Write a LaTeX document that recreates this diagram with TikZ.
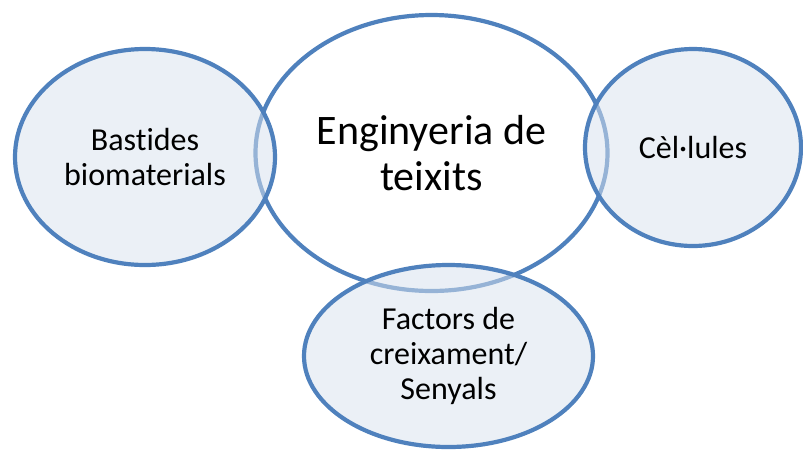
\documentclass[tikz,border=0pt]{standalone}
\usepackage{fontspec}
\setmainfont{Carlito}[Ligatures=NoCommon,RawFeature=-liga]
\usetikzlibrary{shapes.geometric}
\definecolor{olblue}{RGB}{79,129,189}
\definecolor{olfill}{RGB}{216,226,238}
\begin{document}
\begin{tikzpicture}[x=1pt,y=-1pt,
  bubble/.style={ellipse, draw=olblue, line width=4.2pt, inner sep=0pt, align=center},
  side/.style={bubble, fill=olfill, fill opacity=0.52, text opacity=1},
  smalltxt/.style={font=\fontsize{32}{35}\selectfont},
  bigtxt/.style={font=\fontsize{42}{46}\selectfont}]
\useasboundingbox (0,0) rectangle (803,451);
\node[bubble, fill=white, bigtxt, minimum width=352pt, minimum height=276pt] (main) at (431.5,153) {Enginyeria de\\teixits};
\node[side, smalltxt, minimum width=260pt, minimum height=216pt] (left) at (145,157) {Bastides\\biomaterials};
\node[side, smalltxt, minimum width=216pt, minimum height=197pt] (right) at (693,147.5) {Cèl·lules};
\node[side, smalltxt, minimum width=289pt, minimum height=182pt] (bottom) at (448.5,356) {Factors de\\creixament/\\Senyals};
\end{tikzpicture}
\end{document}
